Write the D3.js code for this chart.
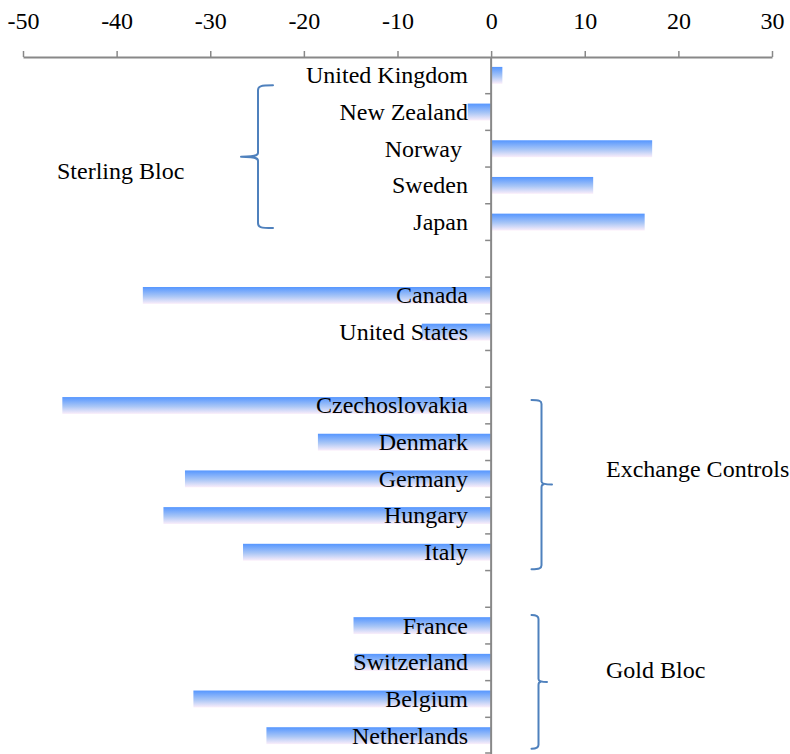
<!DOCTYPE html>
<html>
<head>
<meta charset="utf-8">
<script src="https://cdn.jsdelivr.net/npm/d3@7"></script>
<style>
  html, body { margin: 0; padding: 0; background: #fff; }
  svg { display: block; }
  text { font-family: "Liberation Serif", "Times New Roman", serif; fill: #000; }
</style>
</head>
<body>
<svg id="chart" width="790" height="754"></svg>
<script>
// Change in value, by country (blank entries separate the groups)
const countries = [
  "United Kingdom", "New Zealand", "Norway ", "Sweden", "Japan", "",
  "Canada", "United States", "",
  "Czechoslovakia", "Denmark", "Germany", "Hungary", "Italy", "",
  "France", "Switzerland", "Belgium", "Netherlands"
];
const values = [
  1.2, -2.5, 17.2, 10.9, 16.4, null,
  -37.2, -7.4, null,
  -45.8, -18.5, -32.7, -35.0, -26.5, null,
  -14.7, -14.6, -31.8, -24.0
];
const xTicks = [-50, -40, -30, -20, -10, 0, 10, 20, 30];
const xTickLabels = ["-50", "-40", "-30", "-20", "-10", "0", "10", "20", "30"];

// Bracketed groups: label, first and last member
const groupNames = ["Sterling Bloc", "Exchange Controls", "Gold Bloc"];
const groupFirst = [0, 9, 15];
const groupLast = [4, 13, 18];

const W = 790, H = 754;
const FONT = 24;
const svg = d3.select("#chart");

const x = d3.scaleLinear().domain([-50, 30]).range([23, 772]);
const rowKeys = countries.map((c, i) => i);
const y = d3.scaleBand().domain(rowKeys).range([57, 754]).paddingInner(0).paddingOuter(0);
const barH = y.bandwidth() * 0.46;

// Gradient fill for bars
const defs = svg.append("defs");
const grad = defs.append("linearGradient")
  .attr("id", "barGrad").attr("x1", 0).attr("y1", 0).attr("x2", 0).attr("y2", 1);
grad.append("stop").attr("offset", "0%").attr("stop-color", "#5596ff");
grad.append("stop").attr("offset", "55%").attr("stop-color", "#a9c6f6");
grad.append("stop").attr("offset", "100%").attr("stop-color", "#fbeefa");

// Bars
const rows = rowKeys.filter(i => values[i] !== null);
svg.append("g").selectAll("rect")
  .data(rows)
  .join("rect")
  .attr("x", i => Math.min(x(0), x(values[i])))
  .attr("y", i => y(i) + (y.bandwidth() - barH) / 2)
  .attr("width", i => Math.abs(x(values[i]) - x(0)))
  .attr("height", barH)
  .attr("fill", "url(#barGrad)");

// Category labels, right-aligned left of the zero line
svg.append("g").selectAll("text")
  .data(rows)
  .join("text")
  .attr("x", 468)
  .attr("y", i => y(i) + y.bandwidth() / 2)
  .attr("dy", "0.33em")
  .attr("text-anchor", "end")
  .attr("font-size", FONT)
  .style("white-space", "pre")
  .text(i => countries[i]);

// Top value axis
const axisTop = svg.append("g").attr("transform", "translate(0,57)")
  .call(d3.axisTop(x).tickValues(xTicks).tickSize(6).tickSizeOuter(0).tickPadding(22)
    .tickFormat((d, i) => xTickLabels[i]));
axisTop.select(".domain").attr("stroke", "#888").attr("stroke-width", 2);
axisTop.selectAll(".tick line").attr("stroke", "#888").attr("stroke-width", 1.5);
axisTop.selectAll(".tick text")
  .attr("font-family", "Liberation Serif, Times New Roman, serif")
  .attr("font-size", FONT).attr("fill", "#000");

// Category axis at zero, ticks at band boundaries
const yAxis = svg.append("g").attr("transform", `translate(${x(0)},0)`);
yAxis.append("line")
  .attr("x1", 0).attr("x2", 0).attr("y1", 57).attr("y2", H)
  .attr("stroke", "#888").attr("stroke-width", 2);
yAxis.selectAll("line.tk")
  .data(rowKeys.slice(1).concat([rowKeys.length]))
  .join("line")
  .attr("class", "tk")
  .attr("x1", -6).attr("x2", 0)
  .attr("y1", i => i < rowKeys.length ? y(i) : y.range()[1] - 1)
  .attr("y2", i => i < rowKeys.length ? y(i) : y.range()[1] - 1)
  .attr("stroke", "#888").attr("stroke-width", 1.5);

// Group braces and labels
const braceColor = "#4f81bd";
const gB = svg.append("g").attr("fill", "none").attr("stroke", braceColor)
  .attr("stroke-width", 2).attr("stroke-linecap", "round");

function braceLeft(xv, y0, y1, tip, hook) {
  const ym = (y0 + y1) / 2;
  return `M${xv + hook},${y0} C${xv + 2},${y0} ${xv},${y0 + 1} ${xv},${y0 + 5}` +
    ` L${xv},${ym - 4} C${xv},${ym - 1} ${xv - 4},${ym} ${tip},${ym}` +
    ` M${tip},${ym} C${xv - 4},${ym} ${xv},${ym + 1} ${xv},${ym + 4}` +
    ` L${xv},${y1 - 5} C${xv},${y1 - 1} ${xv + 2},${y1} ${xv + hook},${y1}`;
}
function braceRight(xv, y0, y1, tip, hook) {
  const ym = (y0 + y1) / 2;
  return `M${xv - hook},${y0} C${xv - 2},${y0} ${xv},${y0 + 1} ${xv},${y0 + 4}` +
    ` L${xv},${ym - 3} C${xv},${ym - 1} ${xv + 2},${ym} ${tip},${ym}` +
    ` M${xv + 2},${ym} C${xv + 1},${ym} ${xv},${ym + 1} ${xv},${ym + 3}` +
    ` L${xv},${y1 - 4} C${xv},${y1 - 1} ${xv - 2},${y1} ${xv - hook},${y1}`;
}

// Sterling Bloc: brace opening to the right, left of the labels
{
  const y0 = y(groupFirst[0]) + y.bandwidth() / 2 + 10;
  const y1 = y(groupLast[0]) + y.bandwidth() / 2 + 6;
  gB.append("path").attr("d", braceLeft(258, y0, y1, 241, 15));
  svg.append("text").attr("x", 57).attr("y", (y0 + y1) / 2 + 14).attr("dy", "0.33em")
    .attr("font-size", FONT).text(groupNames[0]);
}
// Exchange Controls and Gold Bloc: braces opening to the left
{
  const y0 = y(groupFirst[1]) + y.bandwidth() / 2 - 5.5;
  const y1 = y(groupLast[1]) + y.bandwidth() / 2 + 17;
  gB.append("path").attr("d", braceRight(541.5, y0, y1, 552, 10));
  svg.append("text").attr("x", 606).attr("y", (y0 + y1) / 2 - 16).attr("dy", "0.33em")
    .attr("font-size", FONT).text(groupNames[1]);
}
{
  const y0 = y(groupFirst[2]) + y.bandwidth() / 2 - 10.5;
  const y1 = y(groupLast[2]) + y.bandwidth() / 2 + 13;
  gB.append("path").attr("d", braceRight(538.5, y0, y1, 547, 7));
  svg.append("text").attr("x", 606).attr("y", (y0 + y1) / 2 - 12).attr("dy", "0.33em")
    .attr("font-size", FONT).text(groupNames[2]);
}
</script>
</body>
</html>
